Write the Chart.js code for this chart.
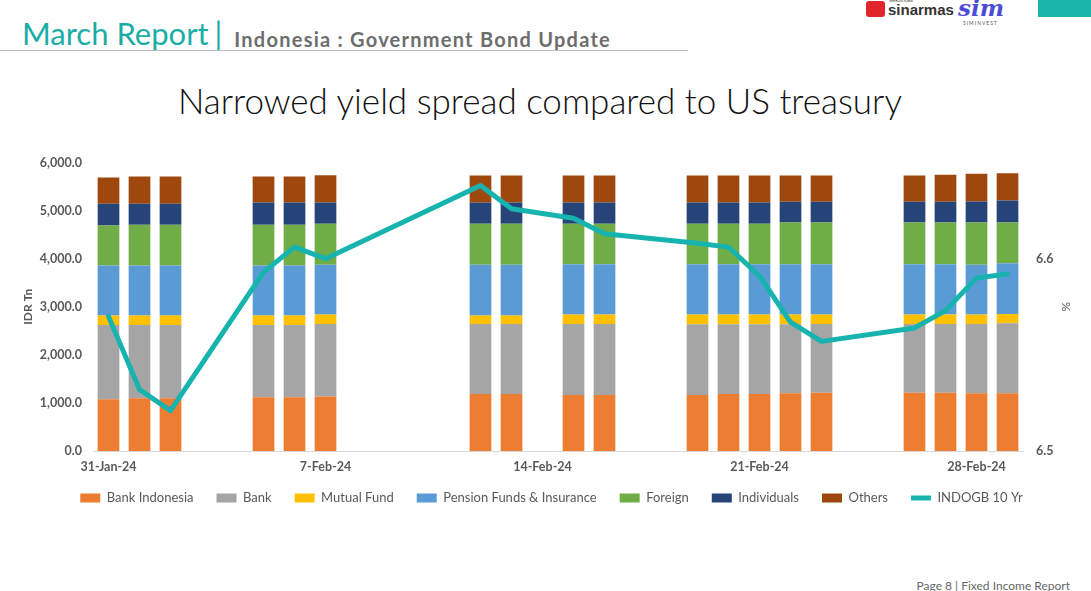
<!DOCTYPE html>
<html>
<head>
<meta charset="utf-8">
<script src="https://cdn.jsdelivr.net/npm/chart.js@4.4.1/dist/chart.umd.min.js"></script>
<style>
  html, body { margin: 0; padding: 0; background: #fff; }
  body { width: 1091px; height: 591px; position: relative; overflow: hidden; font-family: Lato, "Open Sans", sans-serif; }
  #report { position: absolute; left: 22px; top: 14px; font-size: 31px; color: #1BADA5; font-weight: 400; white-space: nowrap; }
  #report .bar { margin-left: 6px; }
  #subtitle { font-size: 20px; color: #6d6d6d; font-weight: 700; margin-left: 12px; letter-spacing: 1.25px; position: relative; top: 2px; }
  #rule { position: absolute; left: 0; top: 50px; width: 688px; height: 1px; background: #bdbdbd; }
  #title { position: absolute; left: 0; width: 1080px; top: 79px; text-align: center; font-size: 35px; font-weight: 300; color: #111; }
  #tealbox { position: absolute; left: 1038px; top: 0; width: 53px; height: 17px; background: #1DB4AC; }
  #logo1 { position: absolute; left: 866px; top: 1px; width: 19px; height: 16px; background: #E0262A; border-radius: 3px; }
  #logo1s { position: absolute; left: 889px; top: -3px; font-size: 6px; color: #555; font-family: "Liberation Sans", Arial, sans-serif; }
  #logo1txt { position: absolute; left: 888px; top: 1px; font-size: 15px; font-weight: 700; color: #333; font-family: "Liberation Sans", Arial, sans-serif; }
  #logo2 { position: absolute; left: 958px; top: -6px; font-size: 23px; font-style: italic; font-weight: 700; color: #4B4CD6; font-family: "DejaVu Serif", serif; }
  #logo2txt { position: absolute; left: 963px; top: 20px; font-size: 5px; letter-spacing: 1px; color: #555; }
  #footer { position: absolute; right: 21px; top: 578px; font-size: 12px; color: #666; }
  #wrap { position: absolute; left: 17px; top: 142px; width: 1069px; height: 373px; }
</style>
</head>
<body>
<div id="tealbox"></div>
<div id="logo1"></div>
<div id="logo1s">sekuritas</div>
<div id="logo1txt">sinarmas</div>
<div id="logo2">sim</div>
<div id="logo2txt">SIMINVEST</div>
<div id="report">March Report<span class="bar">|</span><span id="subtitle">Indonesia : Government Bond Update</span></div>
<div id="rule"></div>
<div id="title">Narrowed yield spread compared to US treasury</div>
<div id="wrap"><canvas id="grafico"></canvas></div>
<div id="footer">Page 8 | Fixed Income Report</div>
<script>
const tanggal = [
  "31-Jan-24", "1-Feb-24", "2-Feb-24", "3-Feb-24", "4-Feb-24", "5-Feb-24", "6-Feb-24", "7-Feb-24",
  "8-Feb-24", "9-Feb-24", "10-Feb-24", "11-Feb-24", "12-Feb-24", "13-Feb-24", "14-Feb-24", "15-Feb-24",
  "16-Feb-24", "17-Feb-24", "18-Feb-24", "19-Feb-24", "20-Feb-24", "21-Feb-24", "22-Feb-24", "23-Feb-24",
  "24-Feb-24", "25-Feb-24", "26-Feb-24", "27-Feb-24", "28-Feb-24", "29-Feb-24"
];
const n = null;
const bankIndonesia = [1075, 1096, 1096, n, n, 1117, 1117, 1131, n, n, n, n, 1186, 1186, n, 1165, 1165, n, n, 1165, 1186, 1186, 1200, 1214, n, n, 1214, 1214, 1200, 1200];
const bank = [1547, 1526, 1526, n, n, 1505, 1505, 1512, n, n, n, n, 1457, 1457, n, 1478, 1478, n, n, 1471, 1450, 1450, 1436, 1429, n, n, 1429, 1429, 1443, 1457];
const mutualFund = [194, 194, 194, n, n, 194, 194, 194, n, n, n, n, 173, 173, n, 194, 194, n, n, 201, 201, 201, 201, 194, n, n, 194, 194, 194, 194];
const pensionFunds = [1041, 1041, 1041, n, n, 1041, 1041, 1034, n, n, n, n, 1055, 1055, n, 1048, 1048, n, n, 1048, 1048, 1048, 1048, 1048, n, n, 1048, 1048, 1034, 1054];
const foreign = [832, 846, 846, n, n, 846, 846, 853, n, n, n, n, 853, 853, n, 839, 839, n, n, 839, 839, 839, 867, 867, n, n, 867, 867, 881, 847];
const individuals = [451, 437, 437, n, n, 465, 465, 444, n, n, n, n, 444, 444, n, 444, 444, n, n, 444, 444, 444, 430, 430, n, n, 430, 430, 437, 457];
const others = [548, 569, 569, n, n, 541, 541, 569, n, n, n, n, 562, 562, n, 562, 562, n, n, 562, 562, 562, 548, 548, n, n, 548, 562, 575, 569];
const indogb10 = [6.570, 6.532, 6.521, n, n, 6.593, 6.606, 6.600, n, n, n, n, 6.638, 6.626, n, 6.621, 6.613, n, n, 6.608, 6.606, 6.591, 6.567, 6.557, n, n, 6.564, 6.573, 6.590, 6.592];
const ticksKiri = [0, 1000, 2000, 3000, 4000, 5000, 6000];
const ticksKanan = [6.5, 6.6];

const abu = "#595959";
const familia = "Lato, 'Open Sans', sans-serif";
const fonte = { family: familia, size: 12.5, weight: "bold" };

function barra(label, data, cor) {
  return {
    type: "bar",
    label: label,
    data: data,
    backgroundColor: cor,
    borderWidth: 0,
    stack: "s",
    yAxisID: "y",
    order: 1,
    pointStyle: "rect",
    barPercentage: 0.7,
    categoryPercentage: 1,
  };
}

// legenda mais baixa e mais perto do eixo que o padrao do Chart.js
const ajusteLegenda = {
  id: "ajusteLegenda",
  beforeLayout(chart) {
    const legenda = chart.legend;
    if (!legenda || legenda._ajustada) return;
    const fitOriginal = legenda.fit;
    legenda.fit = function () {
      fitOriginal.call(this);
      this.height = 40;
    };
    legenda._ajustada = true;
  },
  afterLayout(chart) {
    chart.legend.top -= 6.5;
    chart.legend.bottom -= 6.5;
  },
};

const ctx = document.getElementById("grafico").getContext("2d");
new Chart(ctx, {
  data: {
    labels: tanggal,
    datasets: [
      barra("Bank Indonesia", bankIndonesia, "#ED7D31"),
      barra("Bank", bank, "#A5A5A5"),
      barra("Mutual Fund", mutualFund, "#FFC000"),
      barra("Pension Funds & Insurance", pensionFunds, "#5B9BD5"),
      barra("Foreign", foreign, "#70AD47"),
      barra("Individuals", individuals, "#264478"),
      barra("Others", others, "#9E480E"),
      {
        type: "line",
        label: "INDOGB 10 Yr",
        data: indogb10,
        borderColor: "#17B3AE",
        backgroundColor: "#17B3AE",
        borderWidth: 5,
        pointRadius: 0,
        tension: 0,
        spanGaps: true,
        yAxisID: "y1",
        order: 0,
        pointStyle: "line",
        borderJoinStyle: "round",
        borderCapStyle: "round",
      },
    ],
  },
  plugins: [ajusteLegenda],
  options: {
    responsive: true,
    maintainAspectRatio: false,
    animation: false,
    layout: { padding: 0 },
    plugins: {
      tooltip: { enabled: false },
      legend: {
        position: "bottom",
        labels: {
          usePointStyle: true,
          pointStyleWidth: 20,
          boxHeight: 9,
          padding: 23,
          color: abu,
          font: { family: familia, size: 13 },
          sort: (a, b) => a.datasetIndex - b.datasetIndex,
        },
      },
    },
    scales: {
      x: {
        stacked: true,
        grid: { display: false, drawTicks: false },
        border: { color: "#D9D9D9" },
        afterFit: (escala) => { escala.height = 24; },
        ticks: {
          autoSkip: false,
          maxRotation: 0,
          color: abu,
          font: fonte,
          padding: 8,
          callback: function (v, i) {
            return i % 7 === 0 ? tanggal[i] : "";
          },
        },
      },
      y: {
        stacked: true,
        position: "left",
        min: 0,
        max: 6000,
        grid: { display: false, drawTicks: false },
        border: { display: false },
        afterBuildTicks: (eixo) => { eixo.ticks = ticksKiri.map((v) => ({ value: v })); },
        afterFit: (escala) => { escala.width = 76; },
        ticks: {
          color: abu,
          font: fonte,
          padding: 11,
          callback: (v) => v.toLocaleString("en-US", { minimumFractionDigits: 1, maximumFractionDigits: 1 }),
        },
        title: { display: true, text: "IDR Tn", color: abu, font: { family: familia, size: 12, weight: "bold" }, padding: { top: 4, bottom: 0 } },
      },
      y1: {
        position: "right",
        min: 6.5,
        max: 6.65,
        grid: { display: false, drawTicks: false },
        border: { display: false },
        afterBuildTicks: (eixo) => { eixo.ticks = ticksKanan.map((v) => ({ value: v })); },
        afterFit: (escala) => { escala.width = 63; },
        ticks: {
          color: abu,
          font: fonte,
          padding: 13,
          callback: (v) => v.toFixed(1),
        },
        title: { display: true, text: "%", color: abu, font: { family: familia, size: 12 }, padding: { top: 13, bottom: 0 } },
      },
    },
  },
});
</script>
</body>
</html>
